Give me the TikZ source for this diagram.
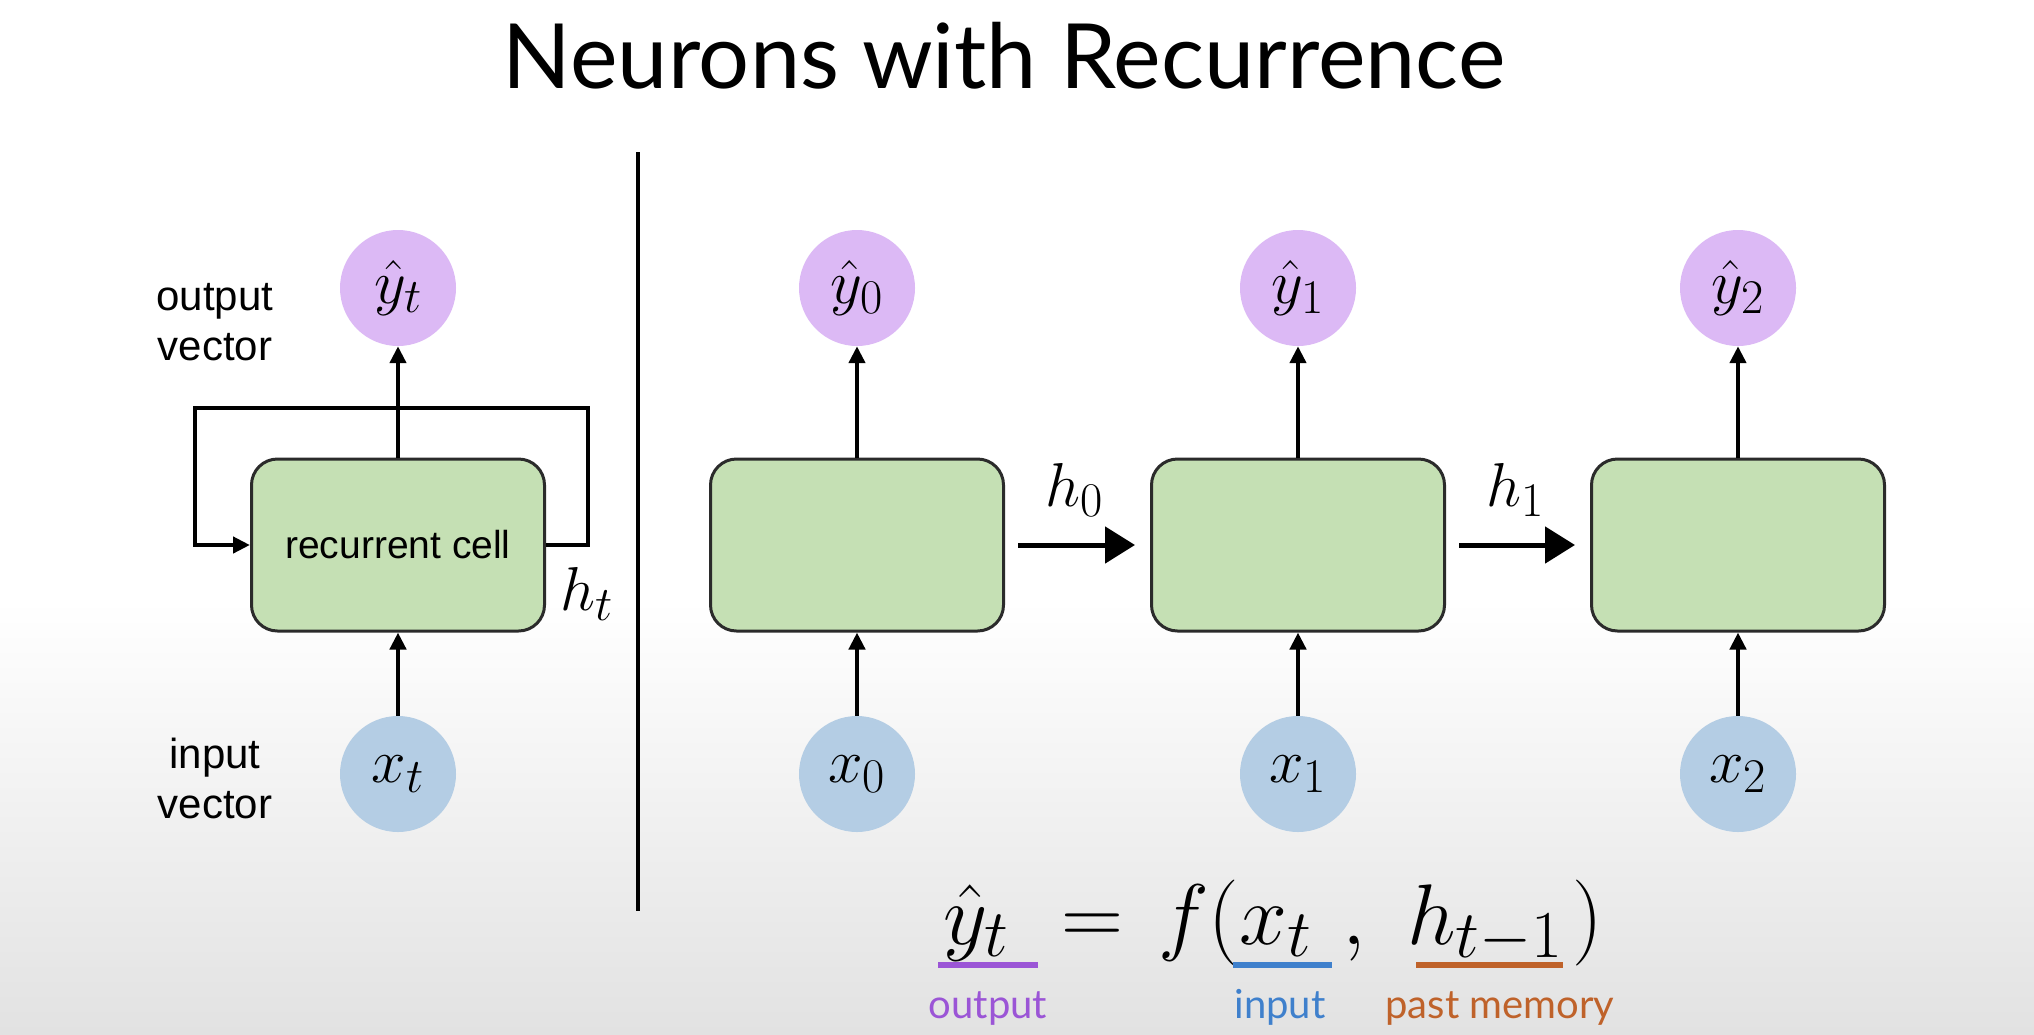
\RequirePackage{fix-cm}
\documentclass[tikz,border=0pt]{standalone}
\usepackage{fontspec}
\setmainfont{Liberation Sans}
\newfontfamily\gill{Lato}
\renewcommand\defaultscriptratio{.78}
\usetikzlibrary{arrows.meta}
\definecolor{ypurple}{HTML}{DCB9F5}
\definecolor{xblue}{HTML}{B4CDE4}
\definecolor{cellgreen}{HTML}{C5E0B4}
\definecolor{boxline}{HTML}{2B2B2B}
\definecolor{bgbot}{HTML}{E2E2E2}
\definecolor{lpurple}{HTML}{9B55D6}
\definecolor{lblue}{HTML}{3F80CC}
\definecolor{lorange}{HTML}{BF622A}
\begin{document}
\begin{tikzpicture}[x=1pt,y=-1pt,
  ycirc/.style={circle, fill=ypurple, minimum size=116pt, inner sep=0pt, font=\fontsize{62}{62}\selectfont},
  xcirc/.style={circle, fill=xblue, minimum size=116pt, inner sep=0pt, font=\fontsize{62}{62}\selectfont},
  cellbox/.style={draw=boxline, line width=3pt, fill=cellgreen, rounded corners=26pt, minimum width=293pt, minimum height=172pt, inner sep=0pt},
  arr/.style={line width=4.5pt, -{Triangle[length=17pt,width=16pt]}},
  harr/.style={line width=5pt, -{Triangle[length=30pt,width=36pt]}},
  mlab/.style={font=\fontsize{62}{62}\selectfont, inner sep=0pt},
  side/.style={font=\fontsize{42}{50}\selectfont, align=center, inner sep=0pt},
  eq/.style={font=\fontsize{86}{86}\selectfont, inner sep=0pt, anchor=base west},
  lab/.style={font=\gill\fontsize{40}{40}\selectfont, inner sep=0pt, anchor=base},
  uline/.style={line width=6pt}
]
% background
\fill[white] (0,0) rectangle (2034,1034);
\shade[top color=white, bottom color=bgbot] (0,600) rectangle (2034,1034);
\useasboundingbox (0,0) rectangle (2034,1034);

% title
\node[font=\gill\fontsize{90}{90}\selectfont, anchor=base, inner sep=0pt] (title) at (1004,88) {Neurons with Recurrence};

% left: folded cell
\node[ycirc] (yt) at (398,288) {$\hat{y}_t$};
\node[cellbox, font=\fontsize{39}{39}\selectfont] (cell) at (398,545) {recurrent cell};
\node[xcirc] (xt) at (398,774) {$x_t$};
\draw[arr] (cell.north) -- (yt.south);
\draw[arr] (xt.north) -- (cell.south);
\coordinate (lr) at (588,408);
\coordinate (ll) at (195,408);
\draw[arr] (cell.east) -| (lr) -- (ll) |- (cell.west);
\node[mlab] (ht) at (587,594) {$h_t$};
\node[side] (outv) at (215,322) {output\\vector};
\node[side] (inv) at (215,778) {input\\vector};

% separator
\coordinate (sepT) at (638,152);
\coordinate (sepB) at (638,911);
\draw[line width=4pt] (sepT) -- (sepB);

% right: unrolled
\foreach \i/\x in {0/857,1/1298,2/1738}{
  \node[ycirc] (y\i) at (\x,288) {$\hat{y}_\i$};
  \node[cellbox] (c\i) at (\x,545) {};
  \node[xcirc] (x\i) at (\x,774) {$x_\i$};
  \draw[arr] (c\i.north) -- (y\i.south);
  \draw[arr] (x\i.north) -- (c\i.south);
}
\draw[harr] ([xshift=13pt]c0.east) -- ([xshift=-15pt]c1.west);
\draw[harr] ([xshift=13pt]c1.east) -- ([xshift=-15pt]c2.west);
\node[mlab] (h0) at (1074,490) {$h_0$};
\node[mlab] (h1) at (1515,490) {$h_1$};

% equation
\node[eq] (eqy) at (943,944) {$\hat{y}_t$};
\node[eq] (eqeq) at (1061,944) {$=$};
\node[eq] (eqf) at (1158,944) {$f($};
\node[eq] (eqx) at (1239,944) {$x_t$};
\node[eq] (eqc) at (1342,944) {$,$};
\node[eq] (eqh) at (1407,944) {$h_{t-1}$};
\node[eq] (eqp) at (1572,944) {$)$};
\draw[uline, lpurple] (938,965) -- (1038,965);
\draw[uline, lblue] (1233,965) -- (1332,965);
\draw[uline, lorange] (1416,965) -- (1563,965);
\node[lab, text=lpurple] (lout) at (988,1018) {output};
\node[lab, text=lblue] (lin) at (1280,1018) {input};
\node[lab, text=lorange] (lmem) at (1500,1018) {past memory};
\end{tikzpicture}
\end{document}
